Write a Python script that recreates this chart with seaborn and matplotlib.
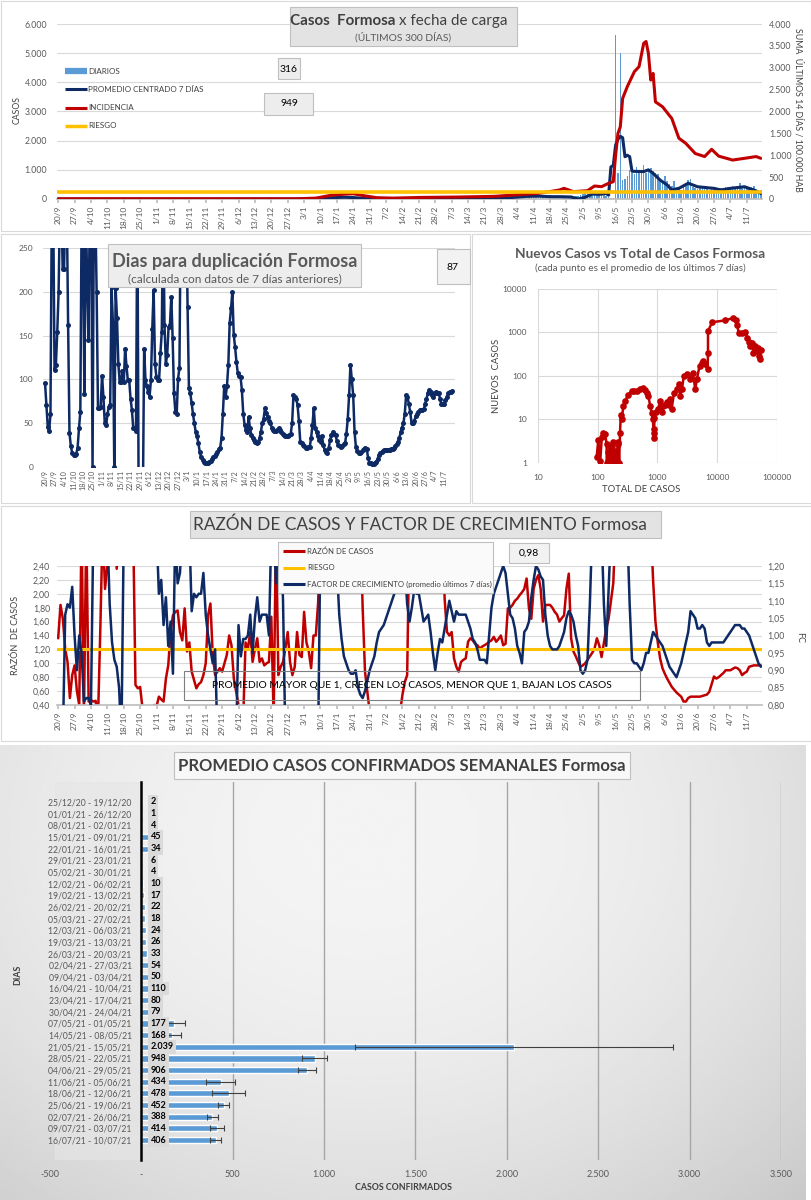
import numpy as np
import pandas as pd
import matplotlib
matplotlib.use("Agg")
import matplotlib.pyplot as plt
import matplotlib.ticker as mtick
from matplotlib.patches import Rectangle
from matplotlib.lines import Line2D
import seaborn as sns

# Canvas in pixels (dpi 100)
W, H = 812, 1200

NAVY = '#0E2A64'
RED = '#C00000'
YELLOW = '#FFC000'
BAR_BLUE = '#5B9BD5'
GRID = '#D9D9D9'
TXT = '#595959'
DARK = '#404040'

# ---------------------------------------------------------------------------
# Data. Time series use "days since 20/9/2020" (day 0 .. day 300 = 17/7/2021)
# ---------------------------------------------------------------------------
FIRST_DAY = '2020-09-20'

# daily cases (bars), starting 1/4/2021 = day 193
DAILY_FIRST = 193
DAILY_CASES = [60, 45, 80, 70, 90, 110, 85, 120, 100, 95,
               260, 130, 90, 110, 140, 100, 80, 120, 90, 70,
               60, 110, 90, 40, 30, 20, 50, 70, 110, 90,
               150, 180, 210, 190, 160, 230, 140, 120, 200, 260,
               180, 90, 60, 40, 30, 5620, 900, 5000, 650, 700,
               800, 1000, 900, 850, 1100, 950, 1000, 1150, 900, 1000, 1050,
               950, 900, 850, 700, 650, 800, 600, 500, 450, 600,
               400, 350, 300, 450, 500, 650, 700, 400, 380, 350,
               400, 420, 380, 350, 300, 380, 420, 350, 330, 380,
               350, 400, 420, 380, 450, 400, 420, 550, 450, 400,
               380, 420, 400, 450, 350, 300, 316]

# centred 7 day average (left axis)
AVG_DAYS = [0, 107, 112, 117, 122, 126, 130, 135, 143, 162, 181, 189, 195, 200,
            205, 210, 214, 219, 222, 225, 228, 231, 234, 235, 236, 237, 238, 239,
            240, 241, 242, 243, 244, 245, 250, 252, 254, 257, 260, 262, 265, 269,
            273, 280, 283, 287, 293, 297, 300]
AVG_CASES = [0, 0, 20, 45, 60, 50, 25, 5, 5, 5, 10, 20, 60, 90,
             100, 80, 80, 70, 0, 60, 170, 160, 190, 130, 1100, 1150, 1850, 2050,
             2150, 2100, 1450, 1500, 1450, 950, 940, 1000, 880, 650, 480, 310, 365, 540,
             420, 365, 310, 365, 420, 310, 190]

# incidence: sum of last 14 days / 100.000 inhabitants (right axis)
INC_DAYS = [0, 102, 110, 116, 122, 126, 130, 136, 143, 154, 171, 186, 197, 205,
            210, 214, 216, 220, 226, 229, 232, 235, 237, 238, 239, 240, 241, 243,
            246, 248, 250, 251, 252, 253, 254, 255, 258, 262, 265, 268, 272, 276,
            279, 282, 288, 293, 298, 300]
INC_VALUES = [5, 5, 20, 80, 110, 120, 80, 30, 20, 35, 45, 60, 100, 130,
              170, 206, 244, 168, 190, 297, 282, 358, 396, 1000, 1500, 1650, 2300, 2570,
              2910, 3025, 3560, 3600, 3330, 2720, 2870, 2220, 2110, 1840, 1390, 1270, 1040, 970,
              1135, 980, 890, 930, 970, 930]
RIESGO_INC = 150
LAST_DAILY = '316'
LAST_INC = '949'

# days to double (one value per day, 0..300)
DUP_VALUES = [96, 71, 46, 41, 60, 300, 300, 111, 117, 154,
              200, 300, 300, 226, 226, 300, 300, 162, 39, 24,
              16, 14, 14, 15, 22, 44, 63, 300, 245, 83,
              300, 213, 145, 300, 300, 0, 300, 300, 200, 67,
              67, 69, 104, 80, 50, 48, 60, 69, 71, 205,
              164, 0, 204, 170, 118, 97, 97, 110, 97, 135,
              115, 99, 99, 78, 65, 44, 44, 41, 300, -50,
              -50, -50, -50, 135, 99, 92, 86, 80, 99, 158,
              202, 118, 103, 99, 99, 130, 154, 300, 162, 118,
              128, 160, 162, 194, 147, 84, 63, 61, 101, 113,
              300, 300, 300, 300, 300, 183, 90, 84, 73, 60,
              50, 40, 35, 27, 17, 11, 8, 6, 5, 5,
              5, 6, 7, 9, 11, 13, 15, 17, 20, 22,
              33, 61, 92, 80, 92, 116, 164, 181, 200, 151,
              137, 120, 107, 104, 103, 88, 61, 48, 42, 40,
              57, 44, 36, 33, 31, 29, 27, 28, 33, 40,
              50, 55, 67, 62, 57, 53, 50, 45, 42, 41,
              41, 42, 44, 42, 40, 38, 36, 35, 35, 35,
              36, 38, 50, 82, 80, 78, 71, 53, 29, 27,
              25, 24, 22, 22, 23, 23, 33, 48, 67, 44,
              40, 35, 31, 29, 35, 25, 19, 17, 16, 22,
              31, 36, 40, 38, 36, 30, 25, 24, 23, 24,
              26, 27, 38, 55, 82, 117, 100, 82, 40, 23,
              18, 16, 16, 17, 19, 21, 22, 21, 10, 5,
              4, 3, 3, 4, 6, 9, 14, 16, 17, 18,
              19, 19, 19, 19, 19, 20, 21, 22, 24, 26,
              29, 33, 40, 45, 50, 61, 82, 80, 72, 63,
              50, 50, 52, 58, 60, 63, 65, 65, 65, 66,
              72, 78, 84, 88, 86, 82, 80, 84, 86, 85,
              84, 78, 72, 72, 72, 76, 80, 84, 86, 86,
              87]
LAST_DUP = '87'

# new cases vs total cases (7 day averages)
SCATTER_TOTAL = [96, 102, 110, 117, 124, 133, 141, 141, 150, 155, 160, 165, 172, 178,
                 183, 188, 195, 200, 208, 215, 221, 228, 236, 243, 251, 268, 286, 326,
                 371, 410, 450, 510, 580, 620, 660, 700, 760, 800, 840, 860, 870, 880,
                 890, 950, 1030, 1110, 1180, 1250, 1340, 1430, 1530, 1630, 1720, 1890,
                 2100, 2250, 2400, 2560, 2750, 3100, 3500, 3920, 4280, 4560, 5050, 5530,
                 5860, 6240, 6900, 7000, 7000, 8200, 13500, 18600, 20500, 21500, 22800,
                 26000, 29300, 31500, 33500, 35700, 37800, 40300, 43000, 46000, 49000,
                 50500, 52000, 53000]
SCATTER_NEW = [1.4, 3.4, 1.1, 3.9, 5.0, 4.6, 2.7, 1.0, 1.75, 1.0, 2.5, 1.0, 2.5, 1.4,
               3.0, 1.2, 1.9, 1.0, 1.0, 2.8, 3.0, 1.0, 5.0, 13, 10, 20, 27, 37,
               45, 45, 45, 51, 54, 48, 41, 35, 20, 14, 10, 5, 3.7, 6,
               11, 14.5, 17, 27, 14.5, 20, 22, 25, 22, 29, 17, 41,
               49, 64, 35, 49, 100, 110, 84, 119, 49, 84, 170, 200,
               220, 185, 142, 340, 1070, 1720, 1900, 2160, 1900, 1520, 985,
               985, 1030, 760, 600, 490, 580, 340, 490, 370, 440,
               285, 240, 390]

# case ratio (left axis) and growth factor (right axis), one value per day
RATIO_VALUES = [1.36, 1.84, 1.64, 1.21, 1.02, 0.50, 0.83, 0.97, 0.60, 0.40,
                3.00, 0.20, 3.00, 0.45, 0.47, 0.45, 0.46, 0.20, 1.50, 3.00,
                2.07, 2.40, 3.00, 3.00, 3.00, 2.36, 3.00, 3.00, 3.00, 3.00,
                3.00, 3.00, 3.00, 0.69, 0.64, 0.66, 0.35, 0.20, 0.20, 0.20,
                0.30, 0.40, 0.38, 0.52, 0.48, 0.45, 0.78, 0.97, 1.45, 1.69,
                1.74, 1.76, 1.45, 1.33, 1.79, 1.17, 1.30, 0.88, 0.76, 0.64,
                0.70, 0.73, 0.83, 1.00, 1.69, 1.86, 1.12, 0.83, 0.88, 0.93,
                0.88, 1.00, 1.12, 1.40, 1.26, 0.78, 0.59, 0.40, 0.20, 0.20,
                1.30, 1.21, 1.45, 1.02, 1.20, 1.36, 1.02, 1.07, 0.97, 1.00,
                1.02, 1.67, 0.20, 3.00, 0.83, 0.95, 1.02, 1.21, 1.45, 1.02,
                0.83, 0.95, 1.45, 1.12, 1.09, 1.74, 1.30, 1.17, 0.93, 1.40,
                1.40, 1.88, 3.00, 3.00, 3.00, 3.00, 3.00, 3.00, 3.00, 3.00,
                3.00, 3.00, 3.00, 3.00, 3.00, 3.00, 3.00, 3.00, 3.00, 3.00,
                1.80, 0.88, 0.59, 0.30, 0.20, 0.20, 0.20, 0.20, 0.20, 0.20,
                0.20, 0.20, 0.20, 0.20, 0.20, 0.20, 0.30, 0.55, 0.73, 0.83,
                3.00, 3.00, 3.00, 3.00, 3.00, 3.00, 3.00, 3.00, 3.00, 3.00,
                3.00, 3.00, 3.00, 3.00, 3.00, 1.93, 1.45, 1.40, 1.45, 1.07,
                0.95, 0.88, 1.02, 1.05, 1.07, 1.31, 1.36, 1.33, 1.28, 1.26,
                1.21, 1.24, 1.26, 1.28, 1.31, 1.33, 1.38, 1.31, 1.35, 1.40,
                1.26, 1.28, 1.79, 1.80, 1.84, 1.90, 1.93, 1.98, 2.02, 2.07,
                2.22, 1.79, 1.64, 2.07, 2.20, 2.27, 2.07, 1.60, 1.84, 1.84,
                1.84, 1.80, 1.74, 1.70, 1.60, 1.65, 1.69, 2.07, 2.29, 1.36,
                1.17, 1.10, 1.02, 0.95, 0.97, 1.00, 1.05, 1.10, 1.15, 1.21,
                1.36, 1.26, 1.09, 1.30, 1.50, 1.64, 1.90, 2.15, 3.00, 3.00,
                3.00, 3.00, 3.00, 3.00, 3.00, 3.00, 3.00, 3.00, 3.00, 3.00,
                3.00, 3.00, 3.00, 3.00, 2.20, 1.60, 1.30, 1.07, 0.93, 0.85,
                0.78, 0.72, 0.66, 0.62, 0.58, 0.55, 0.52, 0.45, 0.45, 0.50,
                0.52, 0.52, 0.52, 0.52, 0.52, 0.53, 0.54, 0.55, 0.59, 0.70,
                0.81, 0.78, 0.80, 0.83, 0.86, 0.90, 0.90, 0.90, 0.92, 0.94,
                0.93, 0.90, 0.83, 0.86, 0.88, 0.95, 0.96, 0.97, 0.97, 0.97,
                0.97]
FC_VALUES = [0.70, 0.70, 0.70, 1.06, 1.09, 1.08, 1.14, 1.00, 0.90, 1.00,
             0.95, 0.81, 0.82, 0.82, 0.80, 1.30, 1.30, 1.30, 1.30, 1.30,
             1.30, 1.30, 1.09, 0.98, 0.93, 0.91, 0.85, 0.70, 1.30, 1.30,
             1.30, 1.30, 1.30, 1.30, 1.30, 1.30, 1.30, 1.30, 1.30, 1.30,
             1.30, 1.30, 1.30, 1.12, 1.16, 1.03, 1.11, 0.97, 1.04, 0.89,
             1.30, 1.15, 1.18, 1.30, 1.30, 1.30, 1.30, 1.07, 1.12, 1.11,
             1.12, 1.12, 1.18, 1.06, 1.00, 0.96, 0.92, 0.96, 0.70, 0.70,
             0.70, 0.70, 0.70, 0.70, 0.70, 0.70, 0.70, 1.03, 0.94, 0.99,
             0.99, 1.00, 1.06, 0.95, 1.05, 1.11, 1.04, 1.06, 1.06, 1.06,
             1.00, 1.30, 1.30, 1.15, 1.30, 1.30, 1.10, 0.70, 0.70, 0.70,
             0.70, 0.70, 0.70, 0.70, 0.70, 0.70, 0.70, 0.70, 0.70, 0.70,
             0.70, 0.70, 1.30, 1.30, 1.30, 1.30, 1.30, 1.30, 1.30, 1.20,
             1.06, 0.99, 0.94, 0.92, 0.90, 0.89, 0.89, 0.90, 0.85, 0.83,
             0.82, 0.84, 0.87, 0.90, 0.92, 0.94, 0.98, 1.01, 1.02, 1.03,
             1.05, 1.07, 1.09, 1.11, 1.13, 1.18, 1.25, 1.30, 1.20, 1.09,
             1.04, 1.08, 1.13, 1.12, 1.12, 1.08, 1.04, 1.05, 1.06, 1.01,
             0.95, 0.90, 0.95, 0.99, 0.98, 1.02, 1.06, 1.10, 1.07, 1.04,
             1.07, 1.06, 1.06, 1.06, 1.06, 1.04, 1.02, 0.99, 0.98, 0.96,
             0.93, 0.93, 0.93, 0.92, 1.00, 1.08, 1.12, 1.14, 1.16, 1.18,
             1.20, 1.18, 1.12, 1.06, 1.05, 1.02, 0.97, 0.95, 0.92, 1.01,
             1.02, 1.04, 1.11, 1.16, 1.20, 1.19, 1.17, 1.16, 1.06, 1.00,
             0.97, 0.96, 0.96, 0.96, 0.97, 0.99, 1.01, 1.05, 1.07, 1.06,
             1.04, 1.00, 0.97, 0.90, 0.89, 0.90, 0.93, 1.09, 1.30, 1.30,
             1.30, 1.30, 1.30, 1.09, 0.97, 1.13, 1.30, 1.30, 1.30, 1.30,
             1.30, 1.30, 1.30, 1.30, 1.09, 0.93, 0.92, 0.92, 0.91, 0.90,
             0.92, 0.95, 0.95, 0.98, 1.01, 1.00, 0.99, 0.98, 0.97, 0.95,
             0.93, 0.91, 0.90, 0.89, 0.88, 0.90, 0.92, 0.95, 0.98, 1.01,
             1.07, 1.06, 1.05, 1.02, 1.02, 1.03, 1.02, 0.98, 0.97, 0.98,
             0.98, 0.98, 0.98, 0.98, 0.98, 0.99, 1.00, 1.01, 1.02, 1.03,
             1.03, 1.03, 1.02, 1.02, 1.01, 1.00, 0.98, 0.96, 0.94, 0.92,
             0.91]
RIESGO_RATIO = 1.2
LAST_FC = '0,98'

# weekly averages
WEEK_LABELS = ['25/12/20 - 19/12/20', '01/01/21 - 26/12/20', '08/01/21 - 02/01/21',
               '15/01/21 - 09/01/21', '22/01/21 - 16/01/21', '29/01/21 - 23/01/21',
               '05/02/21 - 30/01/21', '12/02/21 - 06/02/21', '19/02/21 - 13/02/21',
               '26/02/21 - 20/02/21', '05/03/21 - 27/02/21', '12/03/21 - 06/03/21',
               '19/03/21 - 13/03/21', '26/03/21 - 20/03/21', '02/04/21 - 27/03/21',
               '09/04/21 - 03/04/21', '16/04/21 - 10/04/21', '23/04/21 - 17/04/21',
               '30/04/21 - 24/04/21', '07/05/21 - 01/05/21', '14/05/21 - 08/05/21',
               '21/05/21 - 15/05/21', '28/05/21 - 22/05/21', '04/06/21 - 29/05/21',
               '11/06/21 - 05/06/21', '18/06/21 - 12/06/21', '25/06/21 - 19/06/21',
               '02/07/21 - 26/06/21', '09/07/21 - 03/07/21', '16/07/21 - 10/07/21']
WEEK_AVG = [2, 1, 4, 45, 34, 6, 4, 10, 17, 22, 18, 24, 26, 33, 54,
            50, 110, 80, 79, 177, 168, 2039, 948, 906, 434, 478, 452, 388, 414, 406]
WEEK_ERR = [0, 0, 0, 0, 0, 0, 0, 0, 0, 0, 0, 0, 0, 0, 0,
            0, 0, 0, 0, 60, 50, 870, 70, 50, 80, 90, 30, 30, 40, 30]

# weekly tick labels for the time axes
TICK_DATES = pd.date_range(FIRST_DAY, '2021-07-11', freq='7D')
TICK_DAYS = [(d - pd.Timestamp(FIRST_DAY)).days for d in TICK_DATES]
TICK_LABELS = [f"{d.day}/{d.month}" for d in TICK_DATES]


def miles(v, pos=None):
    return f"{v:,.0f}".replace(",", ".")


def coma2(v, pos=None):
    return f"{v:.2f}".replace(".", ",")


sns.set_theme(style='white')
plt.rcParams['font.family'] = ['Lato', 'DejaVu Sans']
plt.rcParams['axes.unicode_minus'] = False

fig = plt.figure(figsize=(W / 100, H / 100), dpi=100)
fig.patch.set_facecolor('white')


def px_axes(l, t, r, b, **kw):
    return fig.add_axes([l / W, 1 - b / H, (r - l) / W, (b - t) / H], **kw)


def px_text(x, y, s, **kw):
    kw.setdefault('ha', 'center')
    kw.setdefault('va', 'center')
    return fig.text(x / W, 1 - y / H, s, **kw)


def px_box(l, t, r, b, fc='none', ec='#BFBFBF', lw=0.8, z=1):
    fig.add_artist(Rectangle((l / W, 1 - b / H), (r - l) / W, (b - t) / H,
                             transform=fig.transFigure, fc=fc, ec=ec, lw=lw, zorder=z))


def px_line(x0, x1, y, color, lw):
    fig.add_artist(Line2D([x0 / W, x1 / W], [1 - y / H, 1 - y / H],
                          transform=fig.transFigure, color=color, lw=lw,
                          solid_capstyle='butt', zorder=2))


def time_axis(ax, fs):
    ax.set_xlim(-0.5, 300.5)
    ax.set_xticks(TICK_DAYS)
    ax.set_xticklabels(TICK_LABELS, rotation=90, fontsize=fs, color=TXT)
    ax.tick_params(axis='x', length=3, color='#BFBFBF', pad=2, bottom=True)
    for s in ['top', 'right', 'left']:
        ax.spines[s].set_visible(False)
    ax.spines['bottom'].set_color('#BFBFBF')
    ax.set_xlabel('')
    ax.set_ylabel('')


def hide_spines(ax):
    for s in ax.spines.values():
        s.set_visible(False)


# panel frames
px_box(1, 1, 811, 231, ec=GRID)
px_box(1, 234, 470, 503, ec=GRID)
px_box(472, 234, 811, 503, ec=GRID)
px_box(1, 506, 811, 741, ec=GRID)

# ---------------------------------------------------------------- panel 1
ax1 = px_axes(57, 24, 762, 199)
daily_days = np.arange(DAILY_FIRST, DAILY_FIRST + len(DAILY_CASES))
ax1.bar(daily_days, DAILY_CASES, width=0.65, color=BAR_BLUE, linewidth=0, zorder=2)
sns.lineplot(x=AVG_DAYS, y=AVG_CASES, ax=ax1, color=NAVY, linewidth=2.2,
             estimator=None, zorder=3)
ax1.set_ylim(0, 6000)
ax1.set_yticks(np.arange(0, 6001, 1000))
ax1.tick_params(axis='y', labelsize=6.3, labelcolor=TXT, length=0, pad=7)
ax1.yaxis.grid(True, color=GRID, lw=0.8)
ax1.set_axisbelow(True)
time_axis(ax1, 6)

ax1b = ax1.twinx()
sns.lineplot(x=INC_DAYS, y=INC_VALUES, ax=ax1b, color=RED, linewidth=2.2, estimator=None)
ax1b.axhline(RIESGO_INC, color=YELLOW, lw=2.6)
ax1b.set_ylim(0, 4000)
ax1b.set_yticks(np.arange(0, 4001, 500))
ax1b.tick_params(axis='y', labelsize=6.3, labelcolor=TXT, length=0, pad=5)
ax1b.set_ylabel('')
hide_spines(ax1b)

px_text(17, 110, 'CASOS', rotation=90, fontsize=6.3, color=DARK)
px_text(798, 110, 'SUMA  ÚLTIMOS 14 DÍAS / 100.000 HAB', rotation=270, fontsize=6.3, color=DARK)

px_box(290, 7, 517, 46, fc='#E3E3E3')
px_text(396, 21, 'Casos  Formosa', ha='right', fontsize=10.9, fontweight='bold', color=DARK)
px_text(399, 21, 'x fecha de carga', ha='left', fontsize=10.9, color=DARK)
px_text(403, 37, '(ÚLTIMOS 300 DÍAS)', fontsize=7.4, color=TXT)

legend1 = [('DIARIOS', BAR_BLUE, 4.5), ('PROMEDIO CENTRADO 7 DÍAS', NAVY, 2.2),
           ('INCIDENCIA', RED, 2.2), ('RIESGO', YELLOW, 2.5)]
for k, (name, col, lw) in enumerate(legend1):
    y = 71 + k * 18.3
    px_line(65, 87, y, col, lw)
    px_text(88, y, name, ha='left', fontsize=5.8, color=DARK)

px_box(278, 58, 300, 79, fc='#EDEDED')
px_text(289, 69, LAST_DAILY, fontsize=7.5, color='black')
px_box(264, 93, 313, 115, fc='#EDEDED')
px_text(289, 104, LAST_INC, fontsize=7.5, color='black')

# ---------------------------------------------------------------- panel 2
ax2 = px_axes(43, 248, 455, 467)
sns.lineplot(x=np.arange(len(DUP_VALUES)), y=DUP_VALUES, ax=ax2, color=NAVY,
             linewidth=1.8, marker='o', markersize=3.6, markeredgewidth=0, estimator=None)
ax2.set_ylim(0, 250)
ax2.set_yticks(np.arange(0, 251, 50))
ax2.tick_params(axis='y', labelsize=6, labelcolor=TXT, length=0, pad=7)
ax2.yaxis.grid(True, color=GRID, lw=0.8)
ax2.set_axisbelow(True)
time_axis(ax2, 5.2)
ax2.set_xlim(-1.5, 302)
ax2.spines['bottom'].set_visible(False)
ax2.tick_params(axis='x', length=0)

px_box(108, 244, 361, 287, fc='#EDEDED')
px_text(235, 261, 'Dias para duplicación Formosa', fontsize=13, fontweight='bold', color=TXT)
px_text(235, 279, '(calculada con datos de 7 días anteriores)', fontsize=8.6, color=TXT)
px_box(437, 249, 470, 284, fc='#F2F2F2')
px_text(453, 267, LAST_DUP, fontsize=7.5, color='black')

# ---------------------------------------------------------------- panel 3
ax3 = px_axes(538, 289, 777, 463)
sns.lineplot(x=SCATTER_TOTAL, y=SCATTER_NEW, ax=ax3, sort=False, estimator=None,
             color=RED, linewidth=1.8, marker='o', markersize=4.8, markeredgewidth=0)
ax3.set_xscale('log')
ax3.set_yscale('log')
ax3.set_xlim(10, 100000)
ax3.set_ylim(1, 10000)
ax3.xaxis.set_major_locator(mtick.FixedLocator([10, 100, 1000, 10000, 100000]))
ax3.yaxis.set_major_locator(mtick.FixedLocator([1, 10, 100, 1000, 10000]))
ax3.xaxis.set_major_formatter(mtick.FuncFormatter(lambda v, p: f"{int(round(v))}"))
ax3.yaxis.set_major_formatter(mtick.FuncFormatter(lambda v, p: f"{int(round(v))}"))
ax3.minorticks_off()
ax3.tick_params(labelsize=6, labelcolor=TXT, length=0, pad=8)
ax3.grid(True, color=GRID, lw=0.8)
ax3.set_axisbelow(True)
hide_spines(ax3)
ax3.set_xlabel('')
ax3.set_ylabel('')

px_text(640, 254, 'Nuevos Casos vs Total de Casos Formosa', fontsize=9.85, fontweight='bold', color=TXT)
px_text(640, 268, '(cada punto es el promedio de los últimos 7 días)', fontsize=7.1, color=TXT)
px_text(497, 376, 'NUEVOS  CASOS', rotation=90, fontsize=6.8, color=DARK)
px_text(641, 490, 'TOTAL DE CASOS', fontsize=6.8, color=DARK)

# ---------------------------------------------------------------- panel 4
ax4 = px_axes(57, 566, 762, 705)
days = np.arange(len(RATIO_VALUES))
sns.lineplot(x=days, y=RATIO_VALUES, ax=ax4, color=RED, linewidth=1.8, estimator=None)
ax4.axhline(RIESGO_RATIO, color=YELLOW, lw=2.2, zorder=4)
ax4.set_ylim(0.4, 2.4)
ax4.set_yticks(np.arange(0.4, 2.41, 0.2))
ax4.tick_params(axis='y', labelsize=6.3, labelcolor=TXT, length=0, pad=5)
ax4.yaxis.grid(True, color=GRID, lw=0.8)
ax4.set_axisbelow(True)
time_axis(ax4, 6)

ax4b = ax4.twinx()
sns.lineplot(x=days, y=FC_VALUES, ax=ax4b, color=NAVY, linewidth=1.8, estimator=None)
ax4b.set_ylim(0.8, 1.2)
ax4b.set_yticks(np.arange(0.8, 1.201, 0.05))
ax4b.tick_params(axis='y', labelsize=6.3, labelcolor=TXT, length=0, pad=4)
ax4b.set_ylabel('')
hide_spines(ax4b)

px_text(16, 635, 'RAZÓN  DE CASOS', rotation=90, fontsize=6.5, color=DARK)
px_text(800, 637, 'FC', rotation=270, fontsize=6.5, color=DARK)

px_box(190, 511, 661, 538, fc='#E3E3E3')
px_text(420, 525, 'RAZÓN DE CASOS Y FACTOR DE CRECIMIENTO Formosa', fontsize=12.4, color=DARK)

px_box(278, 542, 493, 593, fc='#FAFAFA', z=2)
legend4 = [('RAZÓN DE CASOS', RED), ('RIESGO', YELLOW),
           ('FACTOR DE CRECIMIENTO (promedio últimos 7 días)', NAVY)]
for k, (name, col) in enumerate(legend4):
    y = 551 + k * 16.6
    px_line(283, 305, y, col, 2.2)
    px_text(307, y, name, ha='left', fontsize=5.6, color=DARK, zorder=3)

px_box(509, 543, 549, 563, fc='#F2F2F2')
px_text(529, 553, LAST_FC, fontsize=7.5, color='black')

px_box(184, 671, 640, 700, fc='none', ec='#7F7F7F')
px_text(412, 686, 'PROMEDIO MAYOR QUE 1, CRECEN LOS CASOS, MENOR QUE 1, BAJAN LOS CASOS',
        fontsize=7.4, color='black')

# ---------------------------------------------------------------- panel 5
bg = px_axes(0, 745, 806, 1200, zorder=-5)
gx, gy = np.meshgrid(np.linspace(0, 1, 200), np.linspace(0, 1, 200))
shade = 0.955 - 0.08 * ((gx - 0.45) ** 2 / 0.3 + (gy - 0.2) ** 2 / 0.6)
bg.imshow(np.clip(shade, 0.74, 0.96), cmap='gray', vmin=0, vmax=1, aspect='auto')
bg.axis('off')

ax5 = px_axes(50, 781.7, 781, 1160.3)
ax5.set_facecolor('none')
week_df = pd.DataFrame({'semana': WEEK_LABELS, 'casos': WEEK_AVG})
sns.barplot(data=week_df, x='casos', y='semana', orient='h', color=BAR_BLUE,
            saturation=1, width=0.53, errorbar=None, ax=ax5, zorder=3)
err_idx = [i for i, e in enumerate(WEEK_ERR) if e > 0]
ax5.errorbar([WEEK_AVG[i] for i in err_idx], err_idx, xerr=[WEEK_ERR[i] for i in err_idx],
             fmt='none', ecolor=DARK, elinewidth=0.8, capsize=2, capthick=0.8, zorder=4)
for i, v in enumerate(WEEK_AVG):
    ax5.text(50, i, miles(v), ha='left', va='center', fontsize=6.5, fontweight='bold',
             color='black', zorder=5,
             bbox=dict(boxstyle='square,pad=0.25', fc='#DADADA', ec='none'))
ax5.set_xlim(-500, 3500)
ax5.set_xticks(np.arange(-500, 3501, 500))
for gxv in np.arange(500, 3501, 500):
    ax5.axvline(gxv, color='#A6A6A6', lw=1, zorder=1)
ax5.axvspan(-473, 0, color='#E6E6E6', alpha=0.6, zorder=0)
for s in ['top', 'right', 'bottom']:
    ax5.spines[s].set_visible(False)
ax5.spines['left'].set_position(('data', 0))
ax5.spines['left'].set_color('black')
ax5.spines['left'].set_linewidth(1.8)
ax5.spines['left'].set_zorder(6)
ax5.tick_params(axis='y', labelsize=6.2, labelcolor=TXT, length=0, pad=7)
ax5.tick_params(axis='x', labelsize=6.5, labelcolor=TXT, length=0, pad=7)
ax5.set_xlabel('')
ax5.set_ylabel('')

px_box(174, 752, 630, 779, fc='#F8F8F8')
px_text(402, 766, 'PROMEDIO CASOS CONFIRMADOS SEMANALES Formosa', fontsize=12,
        fontweight='bold', color=DARK)
px_text(403, 1187, 'CASOS CONFIRMADOS', fontsize=6.3, fontweight='bold', color=DARK)
px_text(18, 975, 'DIAS', rotation=90, fontsize=6.3, fontweight='bold', color=DARK)

# number formats (thousands with dot, decimals with comma), set last
ax1.yaxis.set_major_formatter(mtick.FuncFormatter(miles))
ax1b.yaxis.set_major_formatter(mtick.FuncFormatter(miles))
ax4.yaxis.set_major_formatter(mtick.FuncFormatter(coma2))
ax4b.yaxis.set_major_formatter(mtick.FuncFormatter(coma2))
ax5.xaxis.set_major_formatter(mtick.FuncFormatter(lambda v, p: '-' if v == 0 else miles(v)))

fig.savefig('out.png', dpi=100)
